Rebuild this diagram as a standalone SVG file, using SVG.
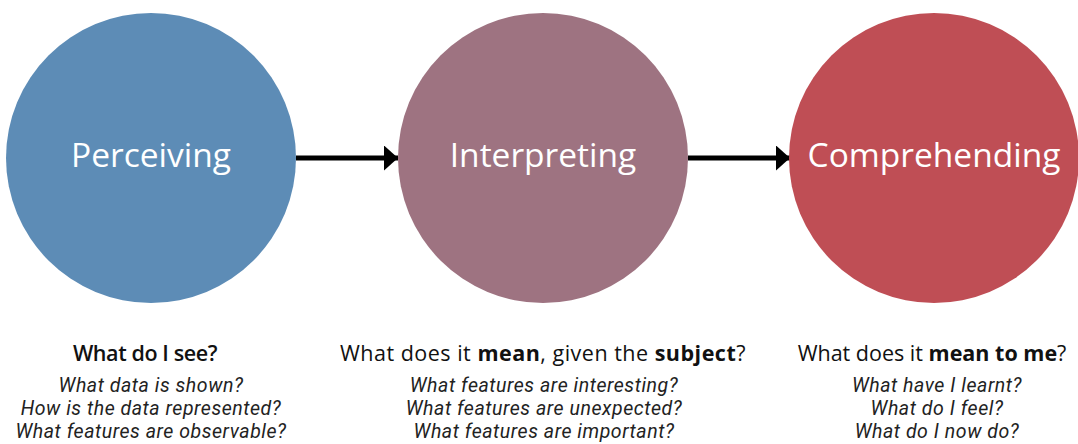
<svg xmlns="http://www.w3.org/2000/svg" width="1078" height="444" viewBox="0 0 1078 444">
<defs>
<style>
.lbl{font-family:"Open Sans","Noto Sans",sans-serif;font-size:33.5px;fill:#fff;text-anchor:middle}
.hd{font-family:"Open Sans","Noto Sans",sans-serif;font-size:21.5px;fill:#111;text-anchor:middle;font-weight:500}
.hd .b{font-weight:700}
.hd.all{font-weight:600;letter-spacing:-0.4px}
.it{font-family:Roboto,"Liberation Sans",sans-serif;font-size:19.5px;letter-spacing:0.55px;font-style:italic;fill:#222;text-anchor:middle}
.con{stroke:#000;stroke-width:5;fill:none}
</style>
<marker id="ah" viewBox="0 0 14 25" refX="14" refY="12.5" markerWidth="14" markerHeight="25" markerUnits="userSpaceOnUse" orient="auto">
<path d="M0,0 L14,12.5 L0,25 Z" fill="#000"/>
</marker>
</defs>
<rect width="1078" height="444" fill="#fff"/>
<g id="connectors">
<line class="con" x1="296" y1="158" x2="398" y2="158" marker-end="url(#ah)"/>
<line class="con" x1="688" y1="158" x2="790" y2="158" marker-end="url(#ah)"/>
</g>
<g id="perceiving">
<circle cx="151" cy="158" r="145" fill="#5D8CB6"/>
<text class="lbl" x="151" y="167">Perceiving</text>
<text class="hd all" x="145" y="361">What do I see?</text>
<text class="it" x="151" y="392">What data is shown?</text>
<text class="it" x="151" y="415">How is the data represented?</text>
<text class="it" x="151" y="438">What features are observable?</text>
</g>
<g id="interpreting">
<circle cx="543" cy="158" r="145" fill="#9E7381"/>
<text class="lbl" x="543" y="167">Interpreting</text>
<text class="hd" x="543" y="361" letter-spacing="0.5">What does it <tspan class="b">mean</tspan>, given the <tspan class="b">subject</tspan>?</text>
<text class="it" x="544" y="392">What features are interesting?</text>
<text class="it" x="544" y="415">What features are unexpected?</text>
<text class="it" x="544" y="438">What features are important?</text>
</g>
<g id="comprehending">
<circle cx="934" cy="158" r="145" fill="#BF4E55"/>
<text class="lbl" x="934" y="167">Comprehending</text>
<text class="hd" x="932" y="361">What does it <tspan class="b">mean to me</tspan>?</text>
<text class="it" x="937" y="392">What have I learnt?</text>
<text class="it" x="937" y="415">What do I feel?</text>
<text class="it" x="937" y="438">What do I now do?</text>
</g>
</svg>
